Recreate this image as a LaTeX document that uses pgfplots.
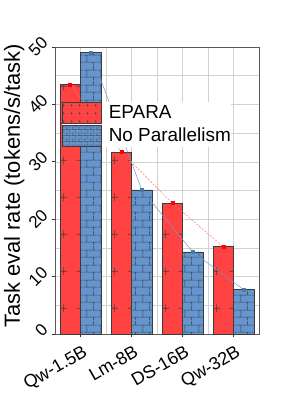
\documentclass[border=0pt]{standalone}
\usepackage{pgfplots}
\pgfplotsset{compat=1.18}
\usepackage{fontspec}
\setmainfont{Liberation Sans}
\usetikzlibrary{patterns.meta}
\definecolor{barred}{RGB}{255,66,66}
\definecolor{barblue}{RGB}{100,149,207}
\definecolor{edge}{RGB}{60,60,60}
\definecolor{linered}{RGB}{255,110,110}
\definecolor{lineblue}{RGB}{110,155,210}

\pgfdeclarepattern{
  name=plusbar, type=uncolored,
  bottom left={\pgfpoint{0bp}{0bp}}, top right={\pgfpoint{17bp}{37bp}},
  tile size={\pgfpoint{17bp}{37bp}},
  code={
    \pgfsetlinewidth{0.7bp}
    \pgfpathmoveto{\pgfpoint{9bp}{13bp}}\pgfpathlineto{\pgfpoint{17bp}{13bp}}
    \pgfpathmoveto{\pgfpoint{13bp}{9bp}}\pgfpathlineto{\pgfpoint{13bp}{17bp}}
    \pgfusepath{stroke}
  }
}
\pgfdeclarepattern{
  name=brickbar, type=uncolored,
  bottom left={\pgfpoint{0bp}{0bp}}, top right={\pgfpoint{14bp}{15bp}},
  tile size={\pgfpoint{14bp}{15bp}},
  code={
    \pgfsetlinewidth{0.6bp}
    \pgfpathmoveto{\pgfpoint{0bp}{3bp}}\pgfpathlineto{\pgfpoint{14bp}{3bp}}
    \pgfpathmoveto{\pgfpoint{0bp}{10.5bp}}\pgfpathlineto{\pgfpoint{14bp}{10.5bp}}
    \pgfpathmoveto{\pgfpoint{3bp}{3bp}}\pgfpathlineto{\pgfpoint{3bp}{10.5bp}}
    \pgfpathmoveto{\pgfpoint{10bp}{10.5bp}}\pgfpathlineto{\pgfpoint{10bp}{15bp}}
    \pgfpathmoveto{\pgfpoint{10bp}{0bp}}\pgfpathlineto{\pgfpoint{10bp}{3bp}}
    \pgfusepath{stroke}
  }
}
\pgfdeclarepattern{
  name=plussmall, type=uncolored,
  bottom left={\pgfpoint{0bp}{0bp}}, top right={\pgfpoint{7.5bp}{7.5bp}},
  tile size={\pgfpoint{7.5bp}{7.5bp}},
  code={
    \pgfsetlinewidth{0.5bp}
    \pgfpathmoveto{\pgfpoint{2.5bp}{3.75bp}}\pgfpathlineto{\pgfpoint{5bp}{3.75bp}}
    \pgfpathmoveto{\pgfpoint{3.75bp}{2.5bp}}\pgfpathlineto{\pgfpoint{3.75bp}{5bp}}
    \pgfusepath{stroke}
  }
}
\pgfdeclarepattern{
  name=bricksmall, type=uncolored,
  bottom left={\pgfpoint{0bp}{0bp}}, top right={\pgfpoint{6bp}{6bp}},
  tile size={\pgfpoint{6bp}{6bp}},
  code={
    \pgfsetlinewidth{0.45bp}
    \pgfpathmoveto{\pgfpoint{0bp}{1.5bp}}\pgfpathlineto{\pgfpoint{6bp}{1.5bp}}
    \pgfpathmoveto{\pgfpoint{0bp}{4.5bp}}\pgfpathlineto{\pgfpoint{6bp}{4.5bp}}
    \pgfpathmoveto{\pgfpoint{1bp}{1.5bp}}\pgfpathlineto{\pgfpoint{1bp}{4.5bp}}
    \pgfpathmoveto{\pgfpoint{4bp}{4.5bp}}\pgfpathlineto{\pgfpoint{4bp}{6bp}}
    \pgfpathmoveto{\pgfpoint{4bp}{0bp}}\pgfpathlineto{\pgfpoint{4bp}{1.5bp}}
    \pgfusepath{stroke}
  }
}

\begin{document}
\begin{tikzpicture}
\begin{axis}[
  scale only axis, width=204bp, height=287bp,
  xmin=-0.5, xmax=3.5, ymin=0, ymax=50,
  xtick={0,1,2,3}, xticklabels={Qw-1.5B,Lm-8B,DS-16B,Qw-32B},
  minor xtick={0.5,1.5,2.5},
  ytick={0,10,20,30,40,50}, minor ytick={5,15,25,35,45},
  grid=both,
  major grid style={draw=black!18, line width=0.5bp},
  minor grid style={draw=black!18, line width=0.5bp},
  axis line style={draw=black!65, line width=0.8bp},
  tick style={draw=black!80, line width=0.8bp},
  tick align=outside, major tick length=3bp, minor tick length=0bp,
  tick pos=left,
  /pgf/number format/assume math mode=true,
  yticklabel style={font=\fontsize{17}{20}\selectfont, anchor=base east, inner sep=0pt, xshift=-3bp, yshift=3bp, rotate=45},
  xticklabel style={font=\fontsize{18}{21}\selectfont, anchor=base east, inner sep=0pt, xshift=8bp, yshift=-18bp, rotate=30},
  ylabel={Task eval rate (tokens/s/task)},
  ylabel style={font=\fontsize{22}{26}\selectfont, at={(axis description cs:-0.2,0.516)}, anchor=center},
  legend style={at={(axis description cs:0.0343,0.808)}, anchor=north west, draw=none, fill=white,
    inner sep=0pt, outer sep=0pt, row sep=1bp, font=\fontsize{19}{22}\selectfont,
    nodes={inner sep=0pt},
    /tikz/every odd column/.append style={column sep=7bp}},
  legend cell align=left,
]
\addplot[ybar, bar width=20.5bp, bar shift=-10.25bp, fill=barred, draw=edge, line width=0.7bp,
  postaction={pattern=plusbar, pattern color=black!75}, forget plot]
  coordinates {(0,43.5) (1,31.7) (2,22.8) (3,15.2)};
\addplot[ybar, bar width=20.5bp, bar shift=10.25bp, fill=barblue, draw=edge, line width=0.7bp,
  postaction={pattern=brickbar, pattern color=black!75}, forget plot]
  coordinates {(0,49.0) (1,25.1) (2,14.3) (3,7.7)};
\addplot[linered, line width=0.5bp, dash pattern=on 2bp off 1.5bp, mark=square*, mark size=1.5bp,
  mark options={solid, fill=red, draw=red}, forget plot]
  coordinates {(-0.201,43.5) (0.799,31.7) (1.799,22.8) (2.799,15.2)};
\addplot[lineblue, line width=0.5bp, mark=square*, mark size=1.5bp,
  mark options={solid, fill=barblue!80!black, draw=barblue!80!black}, forget plot]
  coordinates {(0.201,49.0) (1.201,25.1) (2.201,14.3) (3.201,7.7)};
\addlegendimage{legend image code/.code={\draw[fill=barred, draw=edge, line width=0.8bp, postaction={pattern=plussmall, pattern color=black!70}] (0bp,-10.5bp) rectangle (39bp,10.5bp);}}
\addlegendentry{EPARA}
\addlegendimage{legend image code/.code={\draw[fill=barblue, draw=edge, line width=0.8bp, postaction={pattern=bricksmall, pattern color=black!70}] (0bp,-10.5bp) rectangle (39bp,10.5bp);}}
\addlegendentry{No Parallelism}
\end{axis}
\pgfresetboundingbox
\path ([shift={(-55bp,-61bp)}]current axis.south west) rectangle ([shift={(21bp,47bp)}]current axis.north east);
\end{tikzpicture}
\end{document}
